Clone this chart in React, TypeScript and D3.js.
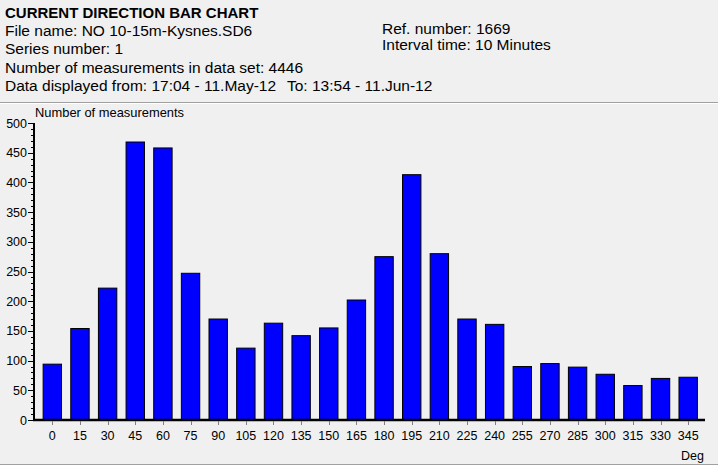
import React from 'react';
import * as d3 from 'd3';

const categories = ['0','15','30','45','60','75','90','105','120','135','150','165','180','195','210','225','240','255','270','285','300','315','330','345'];
const counts = [94,154,222,468,458,247,170,121,163,142,155,202,275,413,280,170,161,90,95,89,77,58,70,72];
const yTicks = [0,50,100,150,200,250,300,350,400,450,500];
const minorTicks = d3.range(0, 501, 10);

const headerLeft = [
  'File name: NO 10-15m-Kysnes.SD6',
  'Series number: 1',
  'Number of measurements in data set: 4446',
];
const headerRight = ['Ref. number: 1669', 'Interval time: 10 Minutes'];

const W = 718, H = 466;
const FONT = '"Liberation Sans", Arial, sans-serif';

export default function App() {
  const x = d3.scaleBand<string>().domain(categories).range([38.5, 702]).paddingInner(0.335).paddingOuter(0.1675);
  const y = d3.scaleLinear().domain([0, 500]).range([420, 123]);
  const xAxisY = y(0);
  return (
    <svg width={W} height={H} style={{ position: 'fixed', left: 0, top: 0, display: 'block' }} fontFamily={FONT}>
      <rect x={0} y={0} width={W} height={H} fill="#f0f0f0" />
      <text x={5} y={17.5} fontSize={15} fontWeight="bold" fill="#000">CURRENT DIRECTION BAR CHART</text>
      {headerLeft.map((t, i) => (
        <text key={t} x={5} y={36 + i * 18.4} fontSize={15.5} fill="#000">{t}</text>
      ))}
      <text x={5} y={91} fontSize={15.5} fill="#000">Data displayed from: 17:04 - 11.May-12</text>
      <text x={287} y={91} fontSize={15.5} fill="#000">To: 13:54 - 11.Jun-12</text>
      {headerRight.map((t, i) => (
        <text key={t} x={382} y={33.5 + i * 16} fontSize={15.5} fill="#000">{t}</text>
      ))}
      <line x1={0} x2={W} y1={102.5} y2={102.5} stroke="#a0a0a0" />
      <line x1={0} x2={W} y1={103.5} y2={103.5} stroke="#ffffff" />
      <line x1={0} x2={W} y1={464.5} y2={464.5} stroke="#a0a0a0" />
      <line x1={0} x2={W} y1={465.5} y2={465.5} stroke="#ffffff" />

      <text x={35} y={117} fontSize={12.9} fill="#000">Number of measurements</text>

      {counts.map((v, i) => (
        <rect key={categories[i]} x={x(categories[i])!} y={y(v)} width={x.bandwidth()} height={xAxisY - y(v)} fill="#0000ff" stroke="#000" strokeWidth={1} />
      ))}

      {minorTicks.map(t => (
        <line key={'m' + t} x1={31} x2={34} y1={Math.round(y(t)) + 0.5} y2={Math.round(y(t)) + 0.5} stroke="#000" />
      ))}
      {yTicks.map(t => (
        <g key={'y' + t}>
          <line x1={28} x2={34} y1={Math.round(y(t)) + 0.5} y2={Math.round(y(t)) + 0.5} stroke="#000" />
          <text x={27} y={y(t)} dy="0.36em" textAnchor="end" fontSize={12.5} fill="#000">{t}</text>
        </g>
      ))}
      <line x1={34} x2={34} y1={y(500)} y2={xAxisY + 1} stroke="#000" strokeWidth={2} />
      <line x1={33} x2={705} y1={xAxisY} y2={xAxisY} stroke="#000" strokeWidth={2.5} />

      {categories.map(c => {
        const cx = x(c)! + x.bandwidth() / 2;
        return (
          <g key={'x' + c}>
            <line x1={Math.round(cx) + 0.5} x2={Math.round(cx) + 0.5} y1={xAxisY + 1} y2={xAxisY + 5} stroke="#808080" />
            <text x={cx} y={440} textAnchor="middle" fontSize={12.5} fill="#000">{c}</text>
          </g>
        );
      })}
      <text x={704} y={460} textAnchor="end" fontSize={12.5} fill="#000">Deg</text>
    </svg>
  );
}
